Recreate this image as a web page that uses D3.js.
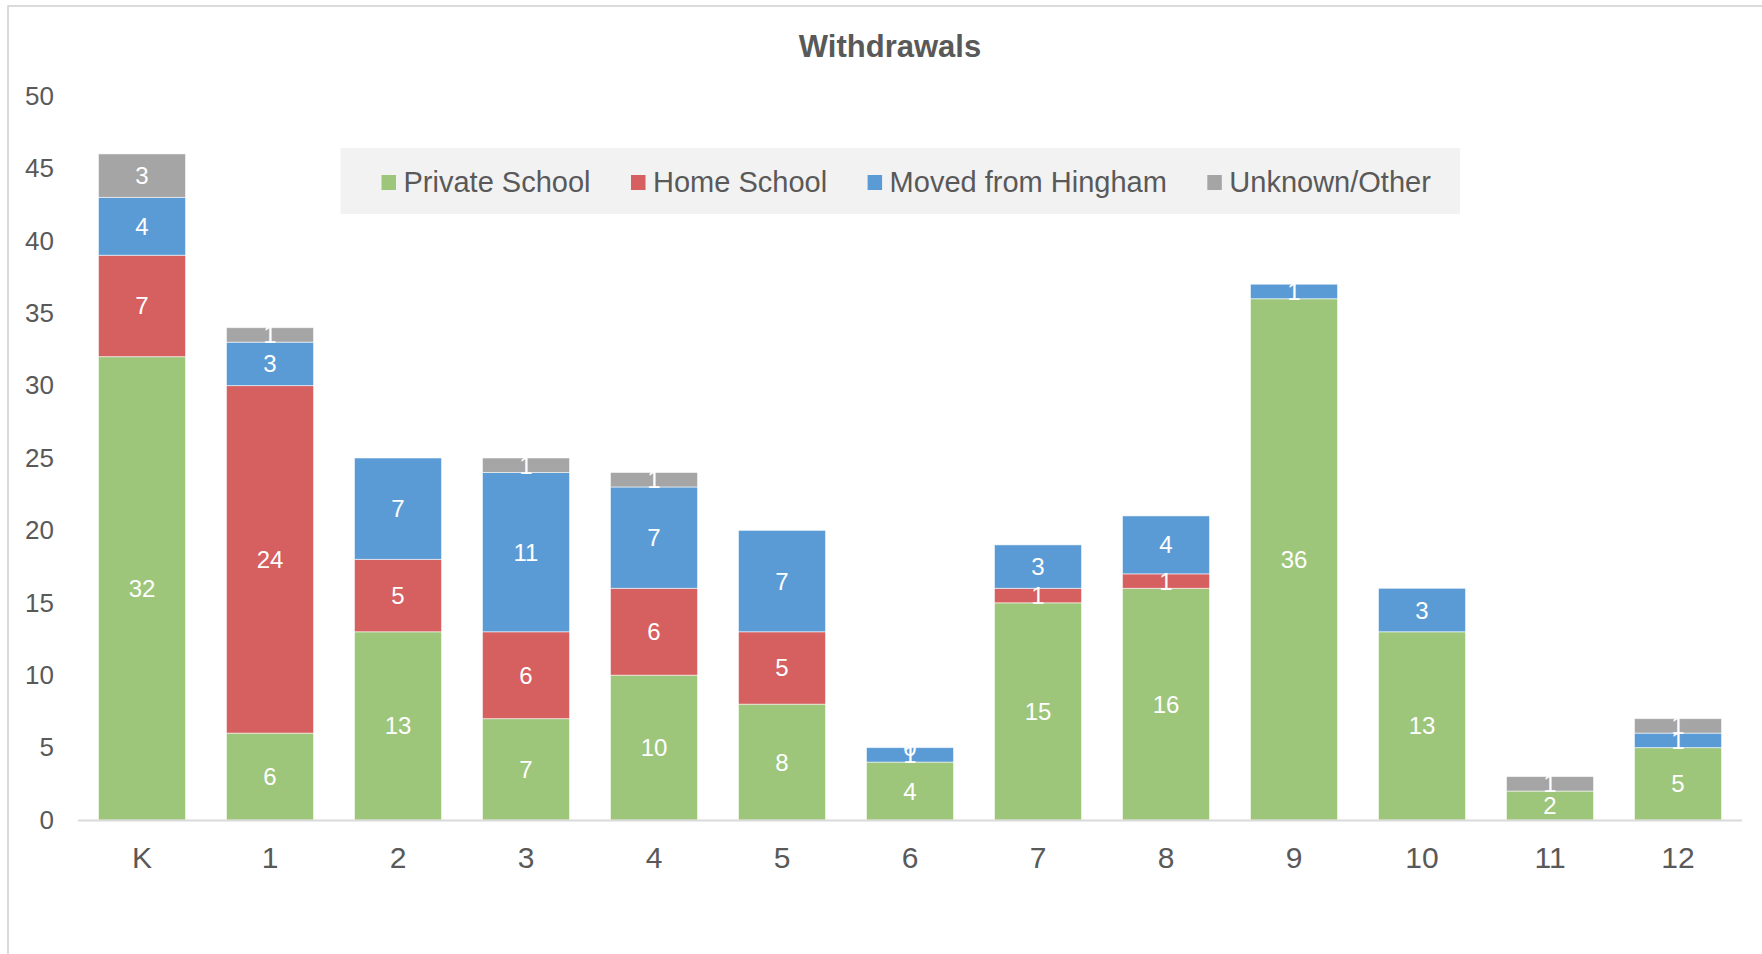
<!DOCTYPE html>
<html>
<head>
<meta charset="utf-8">
<script src="https://cdn.jsdelivr.net/npm/d3@7.9.0/dist/d3.min.js"></script>
<style>
  body { margin: 0; background: #fff; }
  svg { display: block; font-family: "Liberation Sans", Arial, sans-serif; }
</style>
</head>
<body>
<svg width="1762" height="954"></svg>
<script>
const grades = ['K', '1', '2', '3', '4', '5', '6', '7', '8', '9', '10', '11', '12'];
const seriesNames = ['Private School', 'Home School', 'Moved from Hingham', 'Unknown/Other'];
// null = blank cell (no label), numbers are shown as labels
const privateSchool = [32, 6, 13, 7, 10, 8, 4, 15, 16, 36, 13, 2, 5];
const homeSchool = [7, 24, 5, 6, 6, 5, null, 1, 1, null, null, null, null];
const movedAway = [4, 3, 7, 11, 7, 7, 1, 3, 4, 1, 3, null, 1];
const unknownOther = [3, 1, null, 1, 1, null, 0, null, null, null, null, 1, 1];
const yTicks = [0, 5, 10, 15, 20, 25, 30, 35, 40, 45, 50];

const colors = ['#9DC67B', '#D65F5F', '#5B9BD5', '#A5A5A5'];
const seriesValues = [privateSchool, homeSchool, movedAway, unknownOther];

let rows = grades.map((g, i) => {
  let row = { grade: g };
  seriesNames.forEach((name, s) => { row[name] = seriesValues[s][i]; });
  return row;
});

let svg = d3.select('svg');

// chart frame (only top and left edges visible)
svg.append('rect')
  .attr('x', 8).attr('y', 6)
  .attr('width', 1900).attr('height', 1100)
  .attr('fill', 'none')
  .attr('stroke', '#CFCFCF')
  .attr('stroke-width', 1.5);

let x = d3.scaleBand().domain(grades).range([78, 1742]).paddingInner(0.32).paddingOuter(0.16);
let y = d3.scaleLinear().domain([0, 50]).range([820, 96]);

// title
svg.append('text')
  .attr('x', 890).attr('y', 46)
  .attr('text-anchor', 'middle')
  .attr('dominant-baseline', 'central')
  .attr('font-size', 31)
  .attr('font-weight', 'bold')
  .attr('fill', '#595959')
  .text('Withdrawals');

// y axis labels
let yAxis = svg.append('g')
  .attr('transform', 'translate(54,0)')
  .call(d3.axisLeft(y).tickValues(yTicks).tickSize(0).tickPadding(0));
yAxis.select('.domain').remove();
yAxis.selectAll('text')
  .attr('font-size', 26)
  .attr('fill', '#595959')
  .attr('font-family', '"Liberation Sans", Arial, sans-serif');

// stacked bars
let stack = d3.stack().keys(seriesNames).value((d, key) => d[key] || 0);
let stacked = stack(rows);

let layers = svg.append('g').selectAll('g')
  .data(stacked)
  .join('g')
  .attr('fill', (d, i) => colors[i]);

layers.selectAll('rect')
  .data(d => d)
  .join('rect')
  .attr('x', d => x(d.data.grade))
  .attr('width', x.bandwidth())
  .attr('y', d => y(d[1]))
  .attr('height', d => y(d[0]) - y(d[1]))
  .attr('stroke', 'rgba(255,255,255,0.55)')
  .attr('stroke-width', 1);

// x axis line
svg.append('line')
  .attr('x1', 78).attr('x2', 1742)
  .attr('y1', 820.5).attr('y2', 820.5)
  .attr('stroke', '#D9D9D9')
  .attr('stroke-width', 2);

// x axis labels
let xAxis = svg.append('g')
  .attr('transform', 'translate(0,847)')
  .call(d3.axisBottom(x).tickSize(0).tickPadding(0));
xAxis.select('.domain').remove();
xAxis.selectAll('text')
  .attr('font-size', 30)
  .attr('fill', '#595959')
  .attr('font-family', '"Liberation Sans", Arial, sans-serif');

// data labels
stacked.forEach((layer) => {
  svg.append('g').selectAll('text')
    .data(layer.filter(d => d.data[layer.key] !== null))
    .join('text')
    .attr('x', d => x(d.data.grade) + x.bandwidth() / 2)
    .attr('y', d => (y(d[0]) + y(d[1])) / 2)
    .attr('text-anchor', 'middle')
    .attr('dominant-baseline', 'central')
    .attr('font-size', 24)
    .attr('fill', '#fff')
    .text(d => d.data[layer.key]);
});

// legend
let legend = svg.append('g');
legend.append('rect')
  .attr('x', 340.5).attr('y', 148)
  .attr('width', 1119.5).attr('height', 66)
  .attr('fill', '#F2F2F2');

let lx = 381.5;
seriesNames.forEach((name, i) => {
  legend.append('rect')
    .attr('x', lx).attr('y', 175)
    .attr('width', 14.5).attr('height', 15)
    .attr('fill', colors[i]);
  let t = legend.append('text')
    .attr('x', lx + 22).attr('y', 182)
    .attr('dominant-baseline', 'central')
    .attr('font-size', 29)
    .attr('fill', '#595959')
    .text(name);
  lx += 22 + t.node().getComputedTextLength() + 40.5;
});
</script>
</body>
</html>
